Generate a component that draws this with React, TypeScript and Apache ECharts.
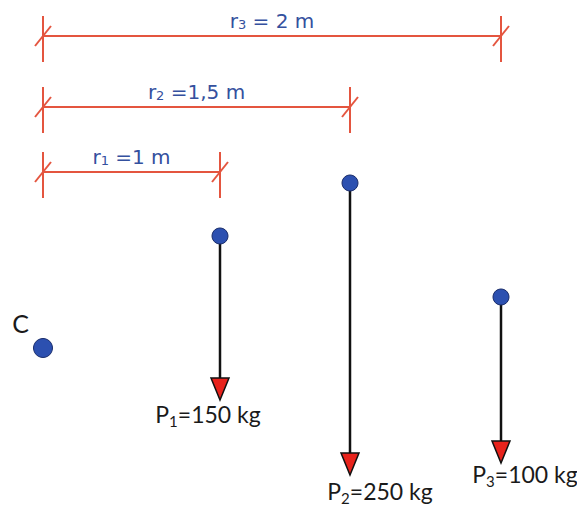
import React, { useEffect, useRef } from "react";
import * as echarts from "echarts";

const W = 577;
const H = 507;

// Diagram content
const pivotName = "C";
const pivotPoint = [43, 348];
const loadIndices = ["1", "2", "3"];
const loadMasses = [150, 250, 100];
const armTexts = [" =1 m", " =1,5 m", " = 2 m"];

// Diagram layout (in diagram units on hidden axes)
const loadX = [220, 350, 501];
const loadTopY = [236, 183, 297];
const loadTipY = [400, 475, 463];
const dimensionY = [172, 107, 36];

// Styles
const RED = "#e4553f";
const BLUE_TEXT = "#34509e";
const DOT_FILL = "#2c50b0";
const DOT_STROKE = "#1a2d6b";
const ARROW_FILL = "#e8231c";
const labelOffsets = [
  [-12, 12],
  [30, 14],
  [24, 9],
];

export default function App() {
  const ref = useRef<HTMLDivElement>(null);

  useEffect(() => {
    const chart = echarts.init(ref.current!, null, { renderer: "svg" });

    const dimData = dimensionY.map((y, i) => [pivotPoint[0], y, loadX[i], i]);
    const forceData = loadX.map((x, i) => [x, loadTopY[i], loadTipY[i], i]);
    const dotData = [
      { value: pivotPoint, symbolSize: 19, label: { show: true } },
      ...loadX.map((x, i) => ({ value: [x, loadTopY[i]], symbolSize: 16 })),
    ];

    const dimRender = (params: any, api: any) => {
      const i = api.value(3);
      const a = api.coord([api.value(0), api.value(1)]);
      const b = api.coord([api.value(2), api.value(1)]);
      const st = { stroke: RED, lineWidth: 2, fill: null };
      const tick = (x: number) => [
        { type: "line", shape: { x1: x, y1: a[1] - 20, x2: x, y2: a[1] + 26 }, style: st },
        { type: "line", shape: { x1: x - 8, y1: a[1] + 10, x2: x + 8, y2: a[1] - 10 }, style: st },
      ];
      return {
        type: "group",
        children: [
          { type: "line", shape: { x1: a[0], y1: a[1], x2: b[0], y2: b[1] }, style: st },
          ...tick(a[0]),
          ...tick(b[0]),
          {
            type: "text",
            x: (a[0] + b[0]) / 2,
            y: a[1] - 17,
            style: {
              text: `{m|r}{s|${loadIndices[i]}}{m|${armTexts[i]}}`,
              align: "center",
              verticalAlign: "middle",
              rich: {
                m: {
                  fontFamily: "DejaVu Sans",
                  fontSize: 20,
                  lineHeight: 24,
                  height: 20,
                  fill: BLUE_TEXT,
                  verticalAlign: "bottom",
                },
                s: {
                  fontFamily: "DejaVu Sans",
                  fontSize: 13,
                  lineHeight: 24,
                  height: 13,
                  fill: BLUE_TEXT,
                  verticalAlign: "bottom",
                },
              },
            },
          },
        ],
      };
    };

    const forceRender = (params: any, api: any) => {
      const i = api.value(3);
      const top = api.coord([api.value(0), api.value(1)]);
      const tip = api.coord([api.value(0), api.value(2)]);
      const h = 22;
      const w = 9;
      const x = tip[0];
      return {
        type: "group",
        children: [
          {
            type: "line",
            shape: { x1: top[0], y1: top[1], x2: x, y2: tip[1] - h },
            style: { stroke: "#111", lineWidth: 2.5 },
          },
          {
            type: "polygon",
            shape: { points: [[x - w, tip[1] - h], [x + w, tip[1] - h], [x, tip[1]]] },
            style: { fill: ARROW_FILL, stroke: "#111", lineWidth: 1.5 },
          },
          {
            type: "text",
            x: x + labelOffsets[i][0],
            y: tip[1] + labelOffsets[i][1],
            style: {
              text: `{m|P}{s|${loadIndices[i]}}{m|=${loadMasses[i]} kg}`,
              align: "center",
              verticalAlign: "middle",
              rich: {
                m: {
                  fontFamily: "Lato",
                  fontSize: 23,
                  lineHeight: 26,
                  height: 23,
                  fill: "#1a1a1a",
                  verticalAlign: "bottom",
                },
                s: {
                  fontFamily: "Lato",
                  fontSize: 15,
                  lineHeight: 26,
                  height: 9,
                  fill: "#1a1a1a",
                  verticalAlign: "bottom",
                },
              },
            },
          },
        ],
      };
    };

    chart.setOption({
      animation: false,
      backgroundColor: "#ffffff",
      grid: { left: 0, right: 0, top: 0, bottom: 0 },
      xAxis: { type: "value", min: 0, max: W, show: false },
      yAxis: { type: "value", min: 0, max: H, inverse: true, show: false },
      series: [
        { type: "custom", renderItem: dimRender, data: dimData, z: 1, silent: true },
        { type: "custom", renderItem: forceRender, data: forceData, z: 2, silent: true },
        {
          type: "scatter",
          data: dotData,
          z: 3,
          silent: true,
          itemStyle: { color: DOT_FILL, borderColor: DOT_STROKE, borderWidth: 1, opacity: 1 },
          label: {
            show: false,
            formatter: pivotName,
            position: "left",
            offset: [1, -25],
            fontFamily: "Lato",
            fontSize: 25,
            color: "#1a1a1a",
          },
        },
      ],
    });

    return () => chart.dispose();
  }, []);

  return (
    <div
      ref={ref}
      style={{ position: "absolute", left: 0, top: 0, width: W, height: H }}
    />
  );
}
